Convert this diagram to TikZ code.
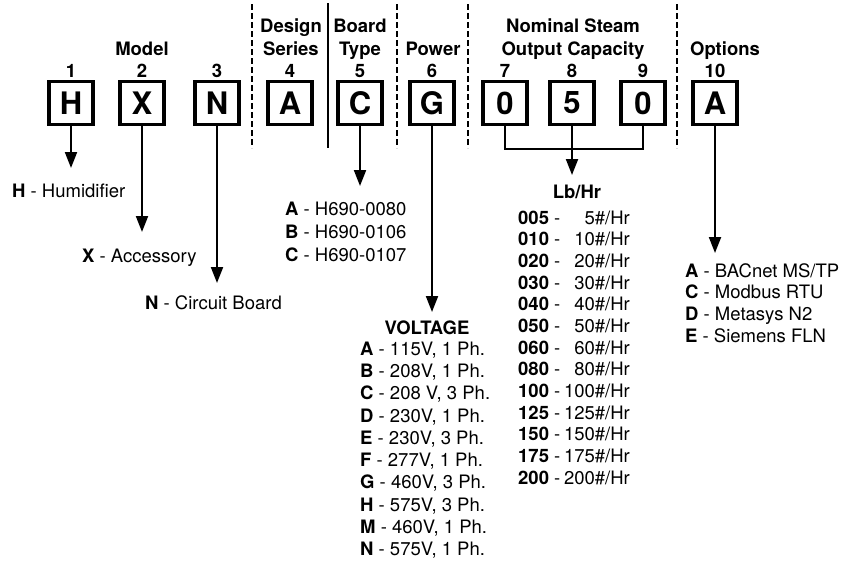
\documentclass[tikz,border=0pt]{standalone}
\usepackage{fontspec}
\setmainfont{TeX Gyre Heros}
\usetikzlibrary{arrows.meta, positioning, calc}

\begin{document}
\begin{tikzpicture}[
    x=1pt, y=-1pt,
    every node/.style={inner sep=0pt},
    hd/.style={font=\fontsize{18.5}{22}\selectfont\bfseries, anchor=base},
    txt/.style={font=\fontsize{18.5}{22}\selectfont, anchor=base west},
    val/.style={font=\fontsize{18.5}{22}\selectfont, anchor=base east},
    digit/.style={draw, line width=3.2pt, minimum width=44pt, minimum height=43pt,
        font=\fontsize{31}{31}\selectfont\bfseries},
    link/.style={line width=2pt},
    tip/.style={link, -{Triangle[length=16pt, width=12pt]}},
    sep/.style={line width=2pt, dash pattern=on 6pt off 3pt},
]
\useasboundingbox (0,0) rectangle (845,563);

% ---------------- dividers
\foreach \x in {252, 397, 468, 677}{
    \draw[sep] (\x, 4) -- (\x, 148);
}
\draw[line width=2pt] (328, 3) -- (328, 148);

% ---------------- headings
\node[hd] (hModel) at (142, 55) {Model};
\node[hd] (hDesign) at (291, 32) {Design};
\node[hd] (hSeries) at (291, 55) {Series};
\node[hd] (hBoard) at (360, 32) {Board};
\node[hd] (hType) at (360, 55) {Type};
\node[hd] (hPower) at (433, 55) {Power};
\node[hd] (hNom) at (573, 32) {Nominal Steam};
\node[hd] (hOut) at (573, 55) {Output Capacity};
\node[hd] (hOpt) at (725, 55) {Options};

% ---------------- code boxes
\foreach \i/\x/\c in {1/71/H, 2/142/X, 3/217/N, 4/290/A, 5/360/C,
                      6/432/G, 7/505/0, 8/572/5, 9/643/0, 10/715/A}{
    \node[hd] (n\i) at (\x, 77) {\i};
    \node[digit] (b\i) at (\x, 103) {\c};
}

% ---------------- arrow ends
\coordinate (e1) at (71, 168);
\coordinate (e2) at (142, 232);
\coordinate (e3) at (217, 283);
\coordinate (e5) at (360, 186);
\coordinate (e6) at (432, 312);
\coordinate (e8) at (572, 175);
\coordinate (e10) at (715, 253);
\coordinate (jc) at (572, 149);

\foreach \i in {1, 2, 3, 5, 6, 8, 10}{
    \draw[tip] (b\i.south) -- (e\i);
}
\draw[link] (b7.south) |- (jc) -| (b9.south);

% ---------------- model
\node[txt] (tH) at (12, 197) {\textbf{H} - Humidifier};
\node[txt] (tX) at (82, 262) {\textbf{X} - Accessory};
\node[txt] (tN) at (145, 309) {\textbf{N} - Circuit Board};

% ---------------- board type
\foreach \l/\t [count=\k from 0] in {A/H690-0080, B/H690-0106, C/H690-0107}{
    \node[txt] (bt\k) at (285, {215+\k*23}) {\textbf{\l} - \t};
}

% ---------------- voltage
\node[hd] (hVolt) at (427, 334) {VOLTAGE};
\foreach \l/\t [count=\k from 0] in {A/{115V, 1 Ph.}, B/{208V, 1 Ph.}, C/{208 V, 3 Ph.},
        D/{230V, 1 Ph.}, E/{230V, 3 Ph.}, F/{277V, 1 Ph.}, G/{460V, 3 Ph.},
        H/{575V, 3 Ph.}, M/{460V, 1 Ph.}, N/{575V, 1 Ph.}}{
    \node[txt] (pw\k) at (360, {355+\k*22.33}) {\textbf{\l} - \t};
}

% ---------------- capacity
\node[hd] (hLb) at (577, 198) {Lb/Hr};
\foreach \c/\v [count=\k from 0] in {005/5, 010/10, 020/20, 030/30, 040/40, 050/50,
        060/60, 080/80, 100/100, 125/125, 150/150, 175/175, 200/200}{
    \node[txt] (lc\k) at (518, {224+\k*21.67}) {\textbf{\c} -};
    \node[val] (lv\k) at (630, {224+\k*21.67}) {\v\#/Hr};
}

% ---------------- options
\foreach \l/\t [count=\k from 0] in {A/{BACnet MS/TP}, C/{Modbus RTU}, D/{Metasys N2}, E/{Siemens FLN}}{
    \node[txt] (op\k) at (685, {277+\k*21.67}) {\textbf{\l} - \t};
}

\end{tikzpicture}
\end{document}
